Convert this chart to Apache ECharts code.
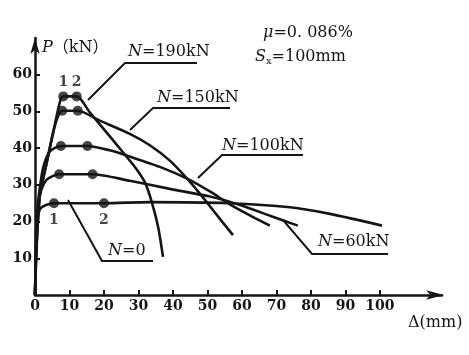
<!DOCTYPE html>
<html>
<head>
<meta charset="utf-8">
<script src="https://cdn.jsdelivr.net/npm/echarts@6/dist/echarts.min.js"></script>
<style>
html,body{margin:0;padding:0;background:#fff;}
#c{width:469px;height:355px;}
</style>
</head>
<body>
<div id="c"></div>
<script>
// ---- data (Δ in mm, P in kN) ----
const n190X = [0, 0.5, 1.45, 3.2, 5.2, 7.2, 8.2, 12.1, 16, 21.7, 26.1, 29.5, 31.9, 33.8, 35.7, 37.1];
const n190Y = [0, 14, 27.4, 35.2, 44, 52.5, 54.1, 54.1, 49.6, 43.2, 38.2, 34.2, 30.6, 25.5, 18.5, 10.4];
const n150X = [0, 0.5, 1.45, 3.2, 5.2, 6.6, 7.9, 12.4, 18.8, 27.5, 33.3, 39.1, 44.1, 47.8, 52.2, 57.4];
const n150Y = [0, 14, 27.4, 35.2, 44, 48.5, 50.2, 50.2, 47.5, 43.9, 40.8, 36.6, 31.7, 27.6, 22.4, 16.3];
const n100X = [0, 0.3, 0.8, 1.45, 2.4, 4.3, 7.5, 15.2, 21.7, 27.5, 36.2, 44.1, 50.7, 56.5, 62.3, 68.1];
const n100Y = [0, 12, 24, 29.5, 34.8, 39.1, 40.6, 40.6, 39.4, 37.7, 34.9, 31.7, 28.2, 24.7, 21.7, 18.9];
const n60X = [0, 0.3, 0.7, 1.45, 3.4, 7.0, 16.7, 27.5, 39.1, 50.7, 59.4, 68.1, 76.2];
const n60Y = [0, 12, 22, 27.4, 31.4, 32.9, 32.9, 31.1, 28.9, 26.8, 24.5, 21.6, 18.9];
const n0X = [0, 0.2, 0.4, 1.45, 3.2, 5.5, 20, 33.3, 56.5, 73.9, 85.5, 100.6];
const n0Y = [0, 10, 19, 23.4, 24.5, 25, 25, 25.3, 25, 23.9, 22.1, 18.9];

// characteristic points 1 and 2 of each curve
const pts190X = [8.2, 12.1], pts190Y = [54.1, 54.1];
const pts150X = [7.9, 12.4], pts150Y = [50.2, 50.2];
const pts100X = [7.5, 15.2], pts100Y = [40.6, 40.6];
const pts60X = [7.0, 16.7], pts60Y = [32.9, 32.9];
const pts0X = [5.5, 20], pts0Y = [25, 25];
const ptNames = ['1', '2'];

const xTicks = [0, 10, 20, 30, 40, 50, 60, 70, 80, 90, 100];
const yTicks = [10, 20, 30, 40, 50, 60];

const zip = (xs, ys) => xs.map((x, i) => [x, ys[i]]);
const INK = '#151515';
const SERIF = '"DejaVu Serif","Liberation Serif","Noto Sans CJK SC",serif';

function curve(name, xs, ys) {
  return {
    name, type: 'line', data: zip(xs, ys), showSymbol: false,
    smooth: 0.25,
    lineStyle: { color: INK, width: 2.6 }, z: 3, silent: true
  };
}
function dots(name, xs, ys, labelPos) {
  return {
    name, type: 'scatter', data: zip(xs, ys).map((d, i) => ({ value: d, name: ptNames[i] })),
    symbolSize: 10, itemStyle: { color: INK }, z: 5, silent: true,
    label: labelPos ? {
      show: true, position: labelPos, distance: labelPos === 'top' ? 2 : 5,
      formatter: p => p.name, color: INK,
      fontFamily: SERIF, fontWeight: 'bold', fontSize: 14
    } : { show: false }
  };
}

const chart = echarts.init(document.getElementById('c'), null, { renderer: 'canvas' });
function label(txt, x, y, size) {
  const fs = size || 16;
  return {
    type: 'text', x, y, z: 10, silent: true,
    style: { text: txt,
      rich: { i: { fontStyle: 'italic', fontFamily: SERIF, fontSize: fs, fill: INK },
              s: { fontFamily: SERIF, fontSize: 10, fill: INK, padding: [9, 0, 0, 0] } },
      fontFamily: SERIF, fontSize: fs, fill: INK, textVerticalAlign: 'middle' }
  };
}
function leader(points) {
  return { type: 'polyline', z: 9, silent: true, shape: { points }, style: { stroke: INK, lineWidth: 2, fill: null } };
}

chart.setOption({
  backgroundColor: '#fff',
  animation: false,
  grid: { left: 35, right: 27, top: 38, bottom: 60, containLabel: false },
  xAxis: {
    type: 'value', min: 0, max: 118, interval: 10,
    axisLine: { lineStyle: { color: INK, width: 2.5 }, symbol: ['none', 'arrow'], symbolSize: [7, 18], symbolOffset: [0, 2] },
    axisTick: { inside: true, length: 5, lineStyle: { color: INK, width: 2 }, customValues: xTicks.filter(v => v > 0) },
    axisLabel: { customValues: xTicks, color: INK, fontFamily: SERIF, fontWeight: 'bold', fontSize: 14, margin: 4 },
    splitLine: { show: false }
  },
  yAxis: {
    type: 'value', min: 0, max: 70, interval: 10,
    axisLine: { lineStyle: { color: INK, width: 2.5 }, symbol: ['none', 'arrow'], symbolSize: [7, 16], symbolOffset: [0, 0] },
    axisTick: { inside: true, length: 5, lineStyle: { color: INK, width: 2 }, customValues: yTicks },
    axisLabel: { customValues: yTicks, color: INK, fontFamily: SERIF, fontWeight: 'bold', fontSize: 14, margin: 3 },
    splitLine: { show: false }
  },
  series: [
    curve('N=190kN', n190X, n190Y),
    curve('N=150kN', n150X, n150Y),
    curve('N=100kN', n100X, n100Y),
    curve('N=60kN', n60X, n60Y),
    curve('N=0', n0X, n0Y),
    dots('p190', pts190X, pts190Y, 'top'),
    dots('p150', pts150X, pts150Y, null),
    dots('p100', pts100X, pts100Y, null),
    dots('p60', pts60X, pts60Y, null),
    dots('p0', pts0X, pts0Y, 'bottom')
  ],
  graphic: [
    leader([[88, 100], [125, 63], [197, 63]]),
    leader([[130, 130], [153, 108], [230, 108]]),
    leader([[198, 178], [222, 155], [303, 155]]),
    leader([[283, 220], [312, 254], [388, 254]]),
    leader([[68, 200], [102, 261], [153, 261]]),
    label('{i|N}=190kN', 128, 52),
    label('{i|N}=150kN', 157, 98),
    label('{i|N}=100kN', 222, 146),
    label('{i|N}=60kN', 318, 242),
    label('{i|N}=0', 108, 251),
    label('{i|μ}=0. 086%', 263, 33),
    label('{i|S}{s|x}=100mm', 255, 57),
    label('{i|P}（kN）', 42, 48),
    label('Δ(mm)', 408, 323)
  ]
});
</script>
</body>
</html>
